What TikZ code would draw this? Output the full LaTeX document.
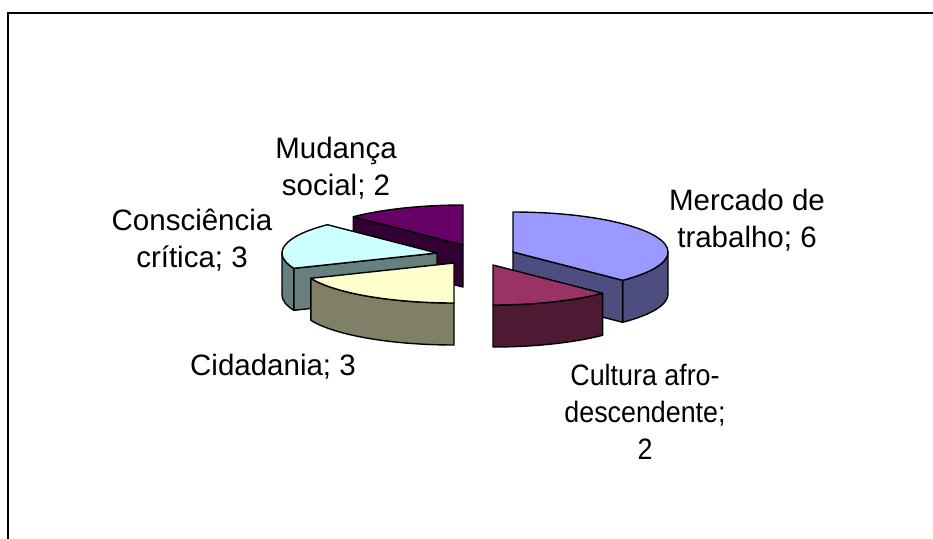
\documentclass[tikz,border=0pt]{standalone}
\usepackage{fontspec}
\setmainfont{Liberation Sans}
\definecolor{merctop}{HTML}{9999FF}
\definecolor{mercside}{HTML}{4D4D80}
\definecolor{cultop}{HTML}{993366}
\definecolor{culside}{HTML}{4D1933}
\definecolor{cidtop}{HTML}{FFFFCC}
\definecolor{cidside}{HTML}{808066}
\definecolor{contop}{HTML}{CCFFFF}
\definecolor{conside}{HTML}{668080}
\definecolor{mudtop}{HTML}{660066}
\definecolor{mudside}{HTML}{330033}
\tikzset{
  face/.style={draw=black, line width=1.4pt, line join=round},
  lbl/.style={font=\fontsize{29.5}{37}\selectfont, align=center, inner sep=0pt, anchor=base},
  ell/.style={x radius=155, y radius=40}
}
\begin{document}
\begin{tikzpicture}[x=1pt,y=1pt]
\useasboundingbox (0,0) rectangle (933,-538);
\clip (0,0) rectangle (933,-538);
\fill[white] (0,0) rectangle (933,-538);
% frame
\draw[line width=2pt] (8,-560) -- (8,-13) -- (960,-13);

% Mudança social (back)
\begin{scope}[shift={(463,-245)}]
  \draw[face, fill=mudside] (0,0) -- (135:155 and 40) -- ++(0,-42) -- (0,-42) -- cycle;
  \draw[face, fill=mudtop] (0,0) -- (90:155 and 40) arc[start angle=90, end angle=135, ell] -- cycle;
\end{scope}

% Mercado de trabalho
\begin{scope}[shift={(513,-252)}]
  \draw[face, fill=mercside] (0:155 and 40) arc[start angle=0, end angle=-45, ell] -- ++(0,-42) arc[start angle=-45, end angle=0, ell] -- cycle;
  \draw[face, fill=mercside] (0,0) -- (-45:155 and 40) -- ++(0,-42) -- (0,-42) -- cycle;
  \draw[face, fill=merctop] (0,0) -- (90:155 and 40) arc[start angle=90, end angle=-45, ell] -- cycle;
\end{scope}

% Consciência crítica
\begin{scope}[shift={(437,-253)}]
  \draw[face, fill=conside] (180:155 and 40) arc[start angle=180, end angle=202.5, ell] -- ++(0,-42) arc[start angle=202.5, end angle=180, ell] -- cycle;
  \draw[face, fill=conside] (0,0) -- (202.5:155 and 40) -- ++(0,-42) -- (0,-42) -- cycle;
  \draw[face, fill=contop] (0,0) -- (135:155 and 40) arc[start angle=135, end angle=202.5, ell] -- cycle;
\end{scope}

% Cidadania
\begin{scope}[shift={(454,-263)}]
  \draw[face, fill=cidside] (202.5:155 and 40) arc[start angle=202.5, end angle=270, ell] -- ++(0,-42) arc[start angle=270, end angle=202.5, ell] -- cycle;
  \draw[face, fill=cidtop] (0,0) -- (270:155 and 40) arc[start angle=270, end angle=202.5, ell] -- cycle;
\end{scope}

% Cultura afro-descendente
\begin{scope}[shift={(493,-265)}]
  \draw[face, fill=culside] (-45:155 and 40) arc[start angle=-45, end angle=-90, ell] -- ++(0,-42) arc[start angle=-90, end angle=-45, ell] -- cycle;
  \draw[face, fill=cultop] (0,0) -- (-45:155 and 40) arc[start angle=-45, end angle=-90, ell] -- cycle;
\end{scope}

% labels (base = baseline of last line)
\node[lbl] (lmud) at (336,-195) {Mudança\\social; 2};
\node[lbl] (lcon) at (192,-267) {Consciência\\crítica; 3};
\node[lbl] (lmer) at (747,-247) {Mercado de\\trabalho; 6};
\node[lbl] (lcid) at (273,-375) {Cidadania; 3};
\node[lbl, xscale=0.91, transform shape] (lcul) at (645,-459) {Cultura afro-\\descendente;\\2};
\end{tikzpicture}
\end{document}
